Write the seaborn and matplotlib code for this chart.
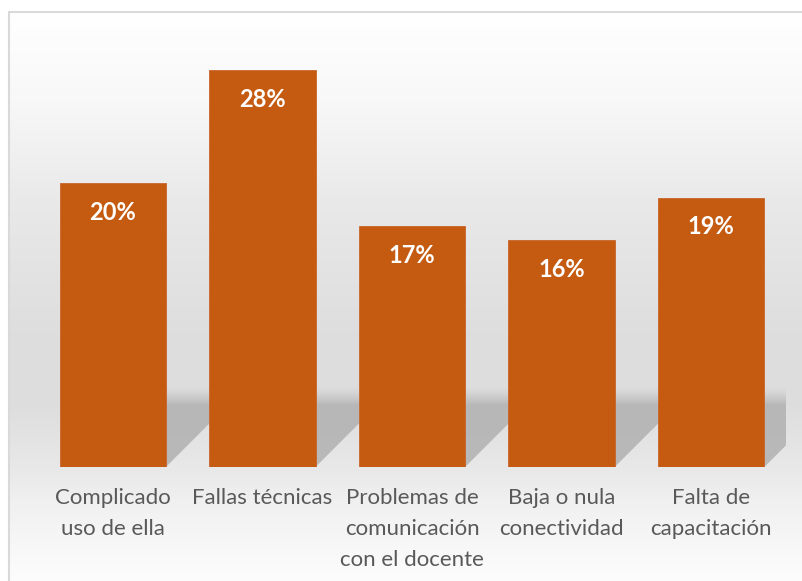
import numpy as np
import pandas as pd
import seaborn as sns
import matplotlib.pyplot as plt
from matplotlib.patches import Polygon, Rectangle

# data
categories = ["Complicado\nuso de ella", "Fallas técnicas", "Problemas de\ncomunicación\ncon el docente",
              "Baja o nula\nconectividad", "Falta de\ncapacitación"]
values = [20, 28, 17, 16, 19]
labels = [f"{v}%" for v in values]

df = pd.DataFrame({"cat": categories, "pct": values})

sns.set_theme(style="white")
plt.rcParams['font.family'] = ['Lato', 'DejaVu Sans']

W, H = 803, 581
fig = plt.figure(figsize=(W / 100, H / 100), dpi=100)
fig.patch.set_facecolor("white")

# chart area background: white -> grey wall -> light floor
bg = fig.add_axes([0, 0, 1, 1], zorder=-2)
rows = np.arange(H)
stops_y = [0, 13, 100, 200, 330, 400, 467, 500, 581]
stops_c = [255, 255, 248, 233, 222, 221, 232, 240, 253]
col = np.interp(rows, stops_y, stops_c) / 255.0
img = np.repeat(col[:, None], W, axis=1)
img[:12, :] = 1.0
img[:, :8] = 1.0
bg.imshow(np.dstack([img, img, img]), extent=(0, W, H, 0), aspect="auto", interpolation="bilinear")
bg.set_xlim(0, W)
bg.set_ylim(H, 0)
bg.axis("off")

fig.add_artist(Rectangle((8.5 / W, -0.1), 1.2, (H - 12.5) / H + 0.1, transform=fig.transFigure,
                         fill=False, edgecolor="#D9D9D9", linewidth=1.5))

ax = fig.add_axes([38 / W, 114 / H, 748 / W, (467 - 41.6) / H])
ax.set_facecolor("none")
sns.barplot(data=df, x="cat", y="pct", color="#C55A11", width=0.71, saturation=1, ax=ax, zorder=3,
            edgecolor="#C9642A", linewidth=0.6)
ax.set_ylim(0, 30)
ax.set_xlim(-0.5, len(categories) - 0.5)

# soft shadow cast behind each bar, skewed to the upper right
px_x = 748 / len(categories)
px_y = (467 - 41.6) / 30
hs = 80 / px_y
skew = 80 / px_x
ny = 300
yy = np.linspace(hs, 0, ny)
alpha = np.clip((hs - yy) / (hs - 62 / px_y), 0, 1) ** 1.3
shade = np.zeros((ny, 2, 4))
shade[..., :3] = 0.70
shade[..., 3] = (alpha * 0.88)[:, None]
for p in ax.patches:
    x0 = p.get_x()
    x1 = x0 + p.get_width()
    poly = Polygon([(x0, 0), (x1, 0), (x1 + skew, hs), (x0 + skew, hs)], closed=True, transform=ax.transData)
    im = ax.imshow(shade, extent=(x0, x1 + skew, 0, hs), aspect="auto", zorder=1, interpolation="bilinear")
    im.set_clip_path(poly)
ax.set_ylim(0, 30)
ax.set_xlim(-0.5, len(categories) - 0.5)

for p, lab in zip(ax.patches, labels):
    ax.annotate(lab, (p.get_x() + p.get_width() / 2, p.get_height()), xytext=(0, -21), textcoords="offset points",
                ha="center", va="center", color="white", fontsize=17, fontweight="bold", zorder=5)

ax.set_xlabel("")
ax.set_ylabel("")
ax.set_yticks([])
ax.tick_params(axis="x", length=0, pad=15, labelsize=16, labelcolor="#595959")
for t in ax.get_xticklabels():
    t.set_linespacing(1.7)
    t.set_multialignment("center")
sns.despine(ax=ax, left=True, bottom=True)

fig.savefig("out.png", dpi=100)
